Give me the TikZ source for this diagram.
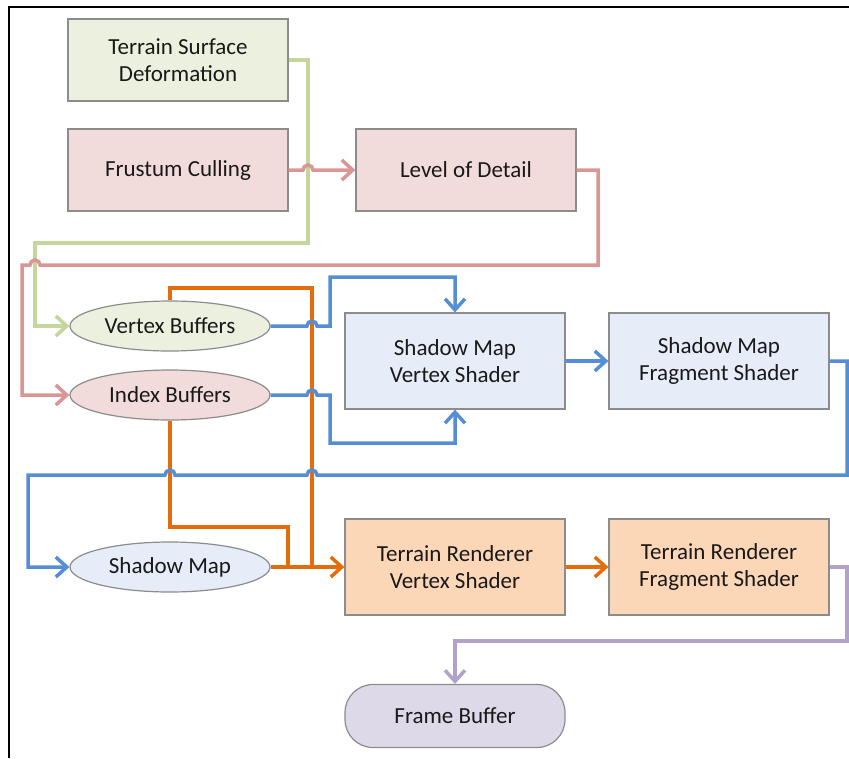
\documentclass[tikz,border=0pt]{standalone}
\usepackage{fontspec}
\setmainfont{Carlito}
\usetikzlibrary{arrows.meta,shapes.geometric}

\definecolor{edgegray}{HTML}{8C8C8C}
\definecolor{greenfill}{HTML}{EBF1DE}
\definecolor{pinkfill}{HTML}{F2DCDB}
\definecolor{bluefill}{HTML}{E6ECF8}
\definecolor{orangefill}{HTML}{FBD6B7}
\definecolor{purplefill}{HTML}{DED9E8}
\definecolor{greenline}{HTML}{C3D69B}
\definecolor{pinkline}{HTML}{D99694}
\definecolor{blueline}{HTML}{558ED5}
\definecolor{orangeline}{HTML}{E46C0A}
\definecolor{purpleline}{HTML}{B3A2C7}

\tikzset{
  block/.style={draw=edgegray, line width=1.2pt, minimum width=220pt, inner sep=0pt, align=center},
  bubble/.style={ellipse, draw=edgegray, line width=1.2pt, minimum width=200pt, minimum height=50pt, inner sep=0pt},
  link/.style={line width=3.5pt},
  tip/.style={-{Straight Barb[length=11pt,width=20pt]}}
}

\begin{document}
\begin{tikzpicture}[x=1pt,y=-1pt,font=\fontsize{23}{27}\selectfont\color{black!90}]
\useasboundingbox (0,0) rectangle (849,758);

% frame
\draw[line width=2pt] (9,758) -- (9,7) -- (849,7);

% boxes
\node[block, minimum height=82pt, fill=greenfill] (tsd) at (178,60) {Terrain Surface\\Deformation};
\node[block, minimum height=82pt, fill=pinkfill] (fc) at (178,170) {Frustum Culling};
\node[block, minimum height=82pt, fill=pinkfill] (lod) at (466,170) {Level of Detail};

\node[bubble, fill=greenfill] (vb) at (170,326) {Vertex Buffers};
\node[bubble, fill=pinkfill] (ib) at (170,395) {Index Buffers};
\node[bubble, fill=bluefill] (sm) at (170,567) {Shadow Map};

\node[block, minimum height=96pt, fill=bluefill] (smv) at (455,361) {Shadow Map\\Vertex Shader};
\node[block, minimum height=96pt, fill=bluefill] (smf) at (719,361) {Shadow Map\\Fragment Shader};
\node[block, minimum height=96pt, fill=orangefill] (trv) at (455,567) {Terrain Renderer\\Vertex Shader};
\node[block, minimum height=96pt, fill=orangefill] (trf) at (719,567) {Terrain Renderer\\Fragment Shader};

\node[block, minimum height=63pt, rounded corners=28pt, fill=purplefill] (fb) at (455,716) {Frame Buffer};

% green
\draw[link, greenline, tip] (tsd.east) -- (308,60) |- (35,243) |- (vb.west);

% pink
\draw[link, pinkline, tip] (fc.east) -- (303,170) arc (180:360:5) -- (lod.west);
\draw[link, pinkline, tip] (lod.east) -- (598,170) -- (598,265) -- (40,265)
  arc (0:-180:5) -- (22,265) |- (ib.west);

% orange
\draw[link, orangeline] (vb.north) |- (312,288) -- (312,567);
\draw[link, orangeline] (ib.south) |- (288,527) -- (288,567);
\draw[link, orangeline, tip] (sm.east) -- (trv.west);
\draw[link, orangeline, tip] (trv.east) -- (trf.west);

% blue
\draw[link, blueline, tip] (vb.east) -- (307,326) arc (180:360:5) -- (330,326) -- (330,277) -| (smv.north);
\draw[link, blueline, tip] (ib.east) -- (307,395) arc (180:360:5) -- (330,395) -- (330,443) -| (smv.south);
\draw[link, blueline, tip] (smv.east) -- (smf.west);
\draw[link, blueline, tip] (smf.east) -- (847,361) -- (847,475) -- (317,475)
  arc (0:-180:5) -- (175,475) arc (0:-180:5) -- (28,475) |- (sm.west);

% purple
\draw[link, purpleline, tip] (trf.east) -- (847,567) -- (847,641) -| (fb.north);
\end{tikzpicture}
\end{document}
